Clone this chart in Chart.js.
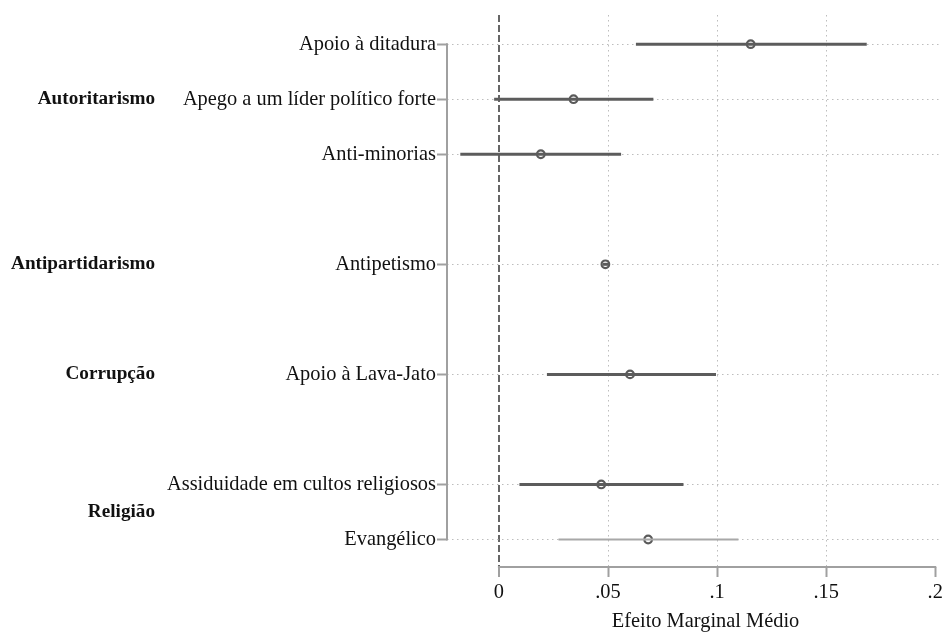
<!DOCTYPE html>
<html>
<head>
<meta charset="utf-8">
<script src="https://cdn.jsdelivr.net/npm/chart.js@4/dist/chart.umd.min.js"></script>
<style>
html,body{margin:0;padding:0;background:#fff;}
#wrap{width:942px;height:632px;}
</style>
</head>
<body>
<div id="wrap"><canvas id="c" width="942" height="632"></canvas></div>
<script>
// ---- data ----
const rowLabels = ['Apoio à ditadura','Apego a um líder político forte','Anti-minorias','Antipetismo','Apoio à Lava-Jato','Assiduidade em cultos religiosos','Evangélico'];
const rowPos = [0,1,2,4,6,8,9];
const estimates = [0.1154,0.0342,0.0192,0.0488,0.0601,0.0469,0.0684];
const lower = [0.0628,-0.0022,-0.0177,0.0476,0.0220,0.0094,0.0273];
const upper = [0.1686,0.0708,0.0560,0.0500,0.0995,0.0846,0.1098];
const groupLabels = ['Autoritarismo','Antipartidarismo','Corrupção','Religião'];
const groupPos = [1,4,6,8.5];
const xTicks = [0,0.05,0.1,0.15,0.2];
const xTickLabels = ['0','.05','.1','.15','.2'];
const xTitle = 'Efeito Marginal Médio';
const lightRows = ['Evangélico'];

const FONT = '"Liberation Serif", "Times New Roman", serif';
Chart.defaults.font.family = FONT;
Chart.defaults.font.size = 20.4;
Chart.defaults.color = '#111';

const ciDatasets = rowLabels.map((lab,i)=>{
  const light = lightRows.includes(lab);
  return {
    type:'scatter',
    showLine:true,
    data:[{x:lower[i],y:rowPos[i]},{x:upper[i],y:rowPos[i]}],
    borderColor: light ? '#a8a8a8' : '#5c5c5c',
    borderWidth: light ? 2 : 3,
    pointRadius:0,
    borderCapStyle:'butt'
  };
});
const pointDataset = {
  type:'scatter',
  data: rowLabels.map((lab,i)=>({x:estimates[i],y:rowPos[i]})),
  pointRadius:3.8,
  pointBorderWidth:2.2,
  pointBorderColor:'#5a5a5a',
  pointBackgroundColor:'rgba(0,0,0,0)',
  showLine:false
};

const extras = {
  id:'extras',
  afterDraw(chart){
    const ctx = chart.ctx;
    const xs = chart.scales.x, ys = chart.scales.y;
    const ca = chart.chartArea;
    ctx.save();
    // y axis line (spanning the rows)
    ctx.strokeStyle = '#a0a0a0';
    ctx.lineWidth = 2;
    ctx.beginPath();
    ctx.moveTo(ca.left, ys.getPixelForValue(rowPos[0]) - 1);
    ctx.lineTo(ca.left, ys.getPixelForValue(rowPos[rowPos.length-1]) + 1);
    ctx.stroke();
    // x axis line (spanning the ticks)
    ctx.beginPath();
    ctx.moveTo(xs.getPixelForValue(xTicks[0]) - 1, ca.bottom);
    ctx.lineTo(xs.getPixelForValue(xTicks[xTicks.length-1]) + 1, ca.bottom);
    ctx.stroke();
    // group labels
    ctx.fillStyle = '#111';
    ctx.font = 'bold 19.2px ' + FONT;
    ctx.textAlign = 'right';
    ctx.textBaseline = 'middle';
    groupLabels.forEach((g,i)=>{
      ctx.fillText(g, 155, ys.getPixelForValue(groupPos[i]));
    });
    // x title
    ctx.font = '20.4px ' + FONT;
    ctx.textAlign = 'center';
    ctx.fillText(xTitle, (xs.left + xs.right)/2 + 11, 622);
    ctx.restore();
  }
};

new Chart(document.getElementById('c'), {
  type:'scatter',
  data:{datasets:[...ciDatasets, pointDataset]},
  options:{
    responsive:false,
    animation:false,
    events:[],
    layout:{autoPadding:false, padding:{top:15,left:0,right:0,bottom:0}},
    plugins:{legend:{display:false},tooltip:{enabled:false}},
    scales:{
      x:{
        type:'linear',
        min:-0.0238, max:0.2031,
        afterBuildTicks(s){ s.ticks = xTicks.map(v=>({value:v})); },
        afterFit(s){ s.height = 65; s.paddingLeft = 0; s.paddingRight = 0; },
        ticks:{autoSkip:false, padding:3, color:'#111', maxRotation:0, callback:(v,i)=>xTickLabels[i]},
        grid:{
          color:(c)=>{ if(!c.tick) return '#bdbdbd'; if(c.tick.value===0) return '#666'; if(c.tick.value===0.2) return 'rgba(0,0,0,0)'; return '#bdbdbd'; },
          lineWidth:(c)=> (c.tick && c.tick.value===0) ? 2 : 1,
          tickColor:'#a0a0a0', tickWidth:2, tickLength:10, tickBorderDash:[]
        },
        border:{display:false, dash:(c)=> (c.tick && c.tick.value===0) ? [7,3] : [1.5,3.5]}
      },
      y:{
        type:'linear',
        reverse:true,
        min:-0.53, max:9.5,
        afterBuildTicks(s){ s.ticks = rowPos.map(v=>({value:v})); },
        afterFit(s){ s.width = 447; s.paddingTop = 0; s.paddingBottom = 0; },
        ticks:{autoSkip:false, padding:1, color:'#111', callback:(v)=>{ const k=rowPos.indexOf(v); return k>=0 ? rowLabels[k] : ''; }},
        grid:{color:'#bdbdbd', lineWidth:1, tickColor:'#a0a0a0', tickWidth:2, tickLength:10, tickBorderDash:[]},
        border:{display:false, dash:[1.5,3.5]}
      }
    }
  },
  plugins:[extras]
});
</script>
</body>
</html>
